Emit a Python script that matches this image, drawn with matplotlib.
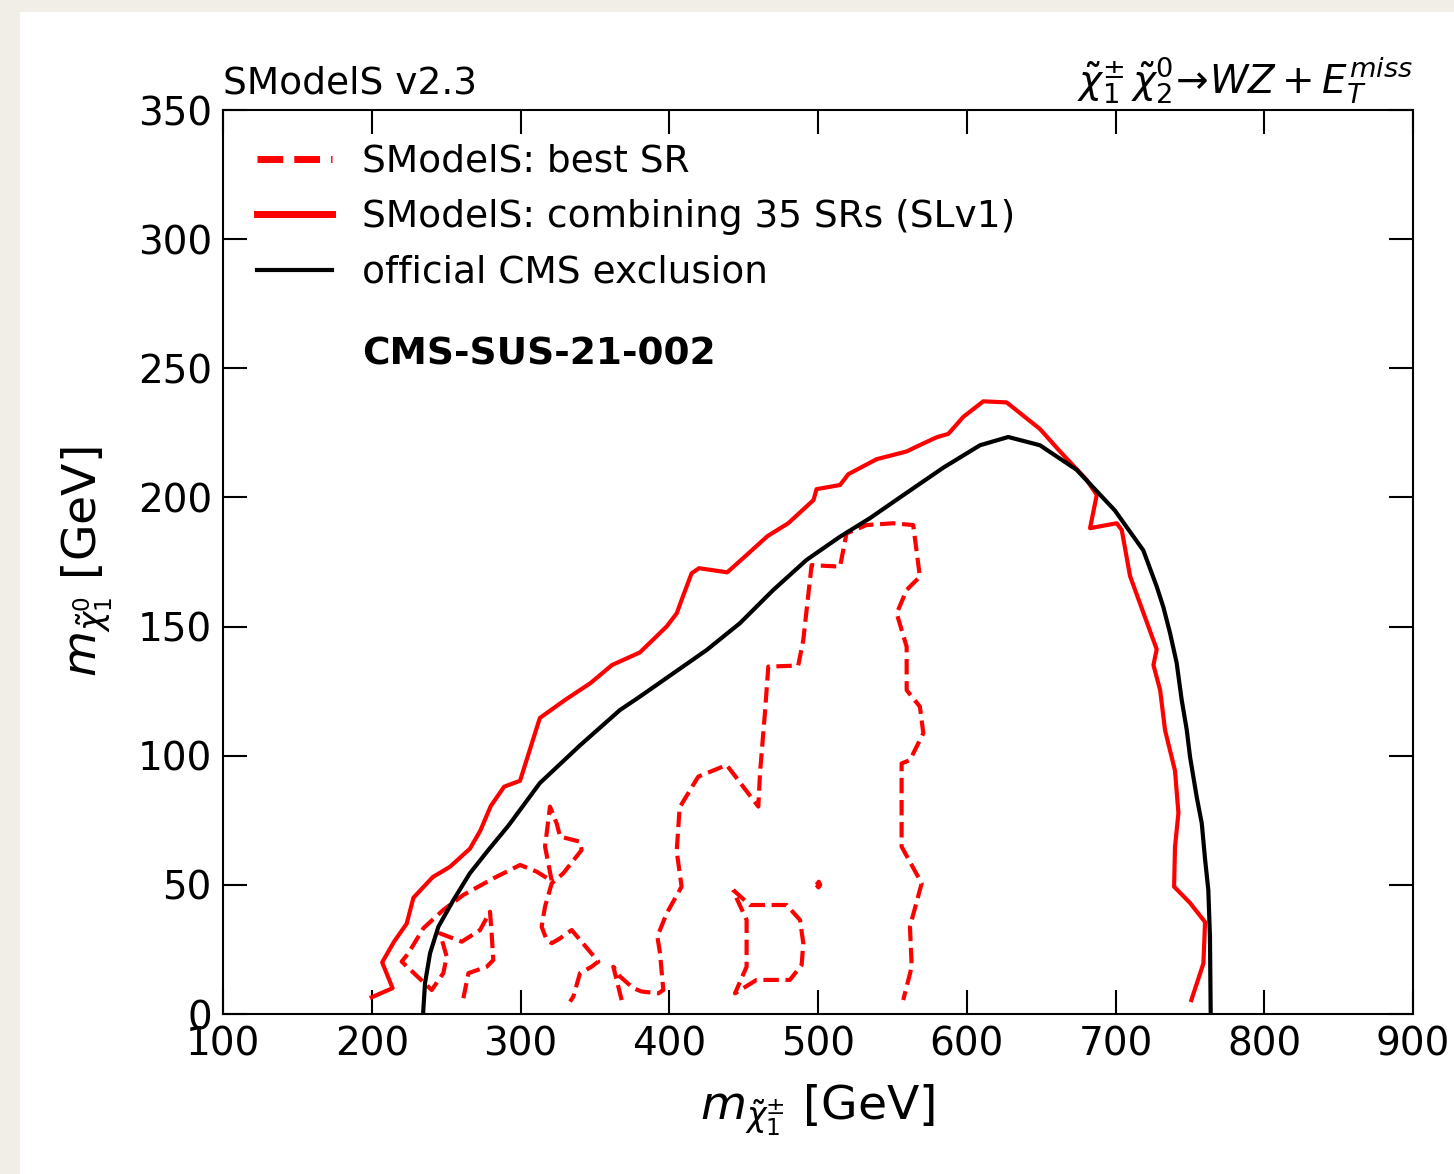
import numpy as np
import matplotlib
matplotlib.use("Agg")
import matplotlib.pyplot as plt
from matplotlib.lines import Line2D
from matplotlib.patches import Rectangle

# curva oficial CMS (m_chargino, m_neutralino) en GeV
cms_x = [234.5, 235.8, 239.2, 244.8, 254.9, 266.0, 278.4, 292.0, 313.0, 340.0, 366.9,
         380.3, 402.7, 425.1, 447.5, 470.0, 492.3, 514.8, 535.0, 555.1, 584.2, 608.9,
         627.9, 649.2, 673.9, 699.5, 718.7, 727.7, 732.2, 736.7, 741.1, 744.5,
         747.9, 750.1, 754.6, 758.0, 760.2, 762.4, 763.5, 764.0]
cms_y = [0.0, 11.9, 23.5, 33.8, 44.1, 54.5, 63.5, 73.0, 89.4, 104.0, 117.7,
         122.9, 131.9, 140.9, 151.3, 164.2, 175.8, 184.8, 192.0, 200.0, 211.5, 220.2,
         223.4, 220.2, 210.7, 195.0, 179.5, 165.5, 157.5, 147.4, 136.0, 121.6,
         110.0, 99.6, 84.0, 73.8, 60.0, 48.0, 30.0, 0.0]

# SModelS combinando 35 SRs
comb_x = [200.0, 214.0, 207.0, 215.0, 223.5, 228.0, 241.0, 252.6, 266.0, 273.0, 280.0,
          289.0, 299.7, 313.0, 330.0, 347.0, 361.5, 380.3, 398.2, 405.0, 408.3, 415.0,
          420.0, 439.0, 452.0, 466.0, 480.0, 497.0, 499.0, 514.8, 520.4, 539.4, 559.6,
          568.6, 579.8, 587.6, 597.7, 611.1, 626.8, 649.2, 662.7, 680.6, 687.4, 682.9,
          700.8, 704.2, 709.8, 727.7, 725.5, 730.0, 733.3, 740.0, 742.3, 740.0, 739.4,
          750.1, 760.2, 759.1, 751.0]
comb_y = [6.5, 10.0, 20.0, 28.0, 35.0, 45.0, 53.0, 57.0, 64.0, 71.0, 80.5,
          88.0, 90.3, 114.6, 121.6, 128.1, 135.1, 140.0, 150.0, 155.1, 160.3, 170.6,
          172.6, 171.0, 177.7, 185.0, 190.0, 199.0, 203.2, 204.8, 209.0, 214.8, 217.8,
          220.3, 223.3, 224.6, 231.2, 237.2, 236.8, 226.5, 217.8, 206.8, 201.0, 188.1,
          190.0, 187.4, 169.5, 141.2, 135.1, 125.4, 109.9, 94.2, 77.8, 64.7, 49.3,
          43.0, 35.6, 19.6, 5.4]

# SModelS mejor SR (varios contornos)
best1_x = [261.6, 265.0, 277.3, 281.7, 280.6, 279.5, 272.8, 260.5, 245.9, 250.4, 248.1,
           240.3, 220.1, 224.6, 234.7, 248.1, 261.6, 281.7, 299.7, 310.9, 321.0, 316.5,
           319.8, 324.3, 326.6, 340.0, 341.1, 328.8, 321.0, 316.5, 314.2, 317.6, 321.0,
           326.6, 334.4, 340.0, 352.3, 347.8, 340.0, 335.5, 333.3]
best1_y = [6.1, 15.8, 18.3, 20.9, 31.2, 39.6, 32.5, 28.0, 31.2, 22.2, 15.8,
           9.3, 20.3, 23.5, 33.2, 40.3, 46.1, 52.5, 57.7, 55.1, 51.5, 64.8,
           80.3, 73.8, 68.7, 66.7, 63.5, 54.5, 50.6, 41.6, 33.8, 28.7, 27.4,
           29.3, 32.5, 28.7, 20.3, 18.3, 15.8, 6.7, 4.8]

best2_x = [368.0, 362.4, 366.9, 375.8, 381.5, 392.7, 396.0, 393.8, 392.0, 398.3, 408.3,
           405.0, 407.0, 419.5, 438.6, 459.9, 461.0, 464.3, 466.6, 486.7, 490.1, 495.7,
           514.8, 519.2, 532.7, 550.6, 564.0, 568.5, 559.6, 552.9, 559.6, 559.6, 568.5,
           570.8, 561.8, 556.2, 556.2, 569.7, 561.8, 563.0, 557.3]
best2_y = [5.4, 18.3, 14.5, 10.0, 8.7, 8.0, 9.3, 23.5, 30.0, 39.0, 49.3,
           63.0, 80.0, 91.9, 96.4, 80.3, 93.2, 116.4, 134.5, 134.9, 144.8, 173.8,
           173.2, 186.1, 189.3, 190.0, 189.3, 169.3, 164.2, 155.1, 142.2, 125.4, 119.0,
           108.7, 98.3, 97.0, 64.8, 50.6, 33.8, 18.3, 5.4]

best3_x = [443.0, 454.2, 478.9, 487.9, 490.1, 489.0, 481.1, 458.7, 444.2, 452.0, 452.0, 445.3, 443.0]
best3_y = [48.0, 42.2, 42.2, 36.4, 27.4, 19.0, 13.2, 13.2, 8.0, 18.3, 36.4, 44.8, 48.0]

best4_x = [499.0, 500.5, 501.5, 500.3, 499.0]
best4_y = [50.0, 51.2, 50.0, 49.0, 50.0]

best_x = [best1_x, best2_x, best3_x, best4_x]
best_y = [best1_y, best2_y, best3_y, best4_y]

xticks = [100, 200, 300, 400, 500, 600, 700, 800, 900]
yticks = [0, 50, 100, 150, 200, 250, 300, 350]

fig = plt.figure(figsize=(14.54, 11.74), dpi=100, facecolor="#f1eee8")
# panel blanco detras de todo
panel = Rectangle((20 / 1454, 0), 1, 1 - 12 / 1174, transform=fig.transFigure,
                  facecolor="white", edgecolor="none", zorder=-5)
fig.add_artist(panel)
ax = fig.add_axes([223 / 1454, 160 / 1174, 1190 / 1454, 904 / 1174])

for bx, by in zip(best_x, best_y):
    ax.plot(bx, by, color="red", linestyle="--", linewidth=3)
ax.plot(comb_x, comb_y, color="red", linestyle="-", linewidth=3)
ax.plot(cms_x, cms_y, color="black", linestyle="-", linewidth=3, solid_joinstyle="round")

ax.set_xlim(100, 900)
ax.set_ylim(0, 350)
ax.set_xticks(xticks)
ax.set_yticks(yticks)
ax.tick_params(direction="in", length=17, width=1.5, labelsize=28, top=True, right=True, pad=8)
for s in ax.spines.values():
    s.set_linewidth(1.5)

ax.set_xlabel(r"$m_{\tilde{\chi}_1^{\pm}}$ [GeV]", fontsize=34, labelpad=14)
ax.set_ylabel(r"$m_{\tilde{\chi}_1^0}$ [GeV]", fontsize=34, labelpad=16)
ax.set_title("SModelS v2.3", loc="left", fontsize=27, pad=12)
ax.set_title(r"$\tilde{\chi}_1^{\pm}\,\tilde{\chi}_2^0\!\to\! WZ + E_T^{miss}$", loc="right", fontsize=28, pad=12)

handles = [
    Line2D([], [], color="red", linestyle="--", linewidth=5),
    Line2D([], [], color="red", linestyle="-", linewidth=5),
    Line2D([], [], color="black", linestyle="-", linewidth=3),
]
labels = ["SModelS: best SR", "SModelS: combining 35 SRs (SLv1)", "official CMS exclusion"]
ax.legend(handles, labels, loc="upper left", frameon=False, fontsize=27,
          handlelength=2.0, handletextpad=0.8, labelspacing=0.52, borderaxespad=0.5)

ax.text(0.117, 0.729, "CMS-SUS-21-002", transform=ax.transAxes, fontsize=27,
        fontweight="bold", va="center", ha="left")

fig.savefig("out.png", dpi=100, facecolor=fig.get_facecolor())
